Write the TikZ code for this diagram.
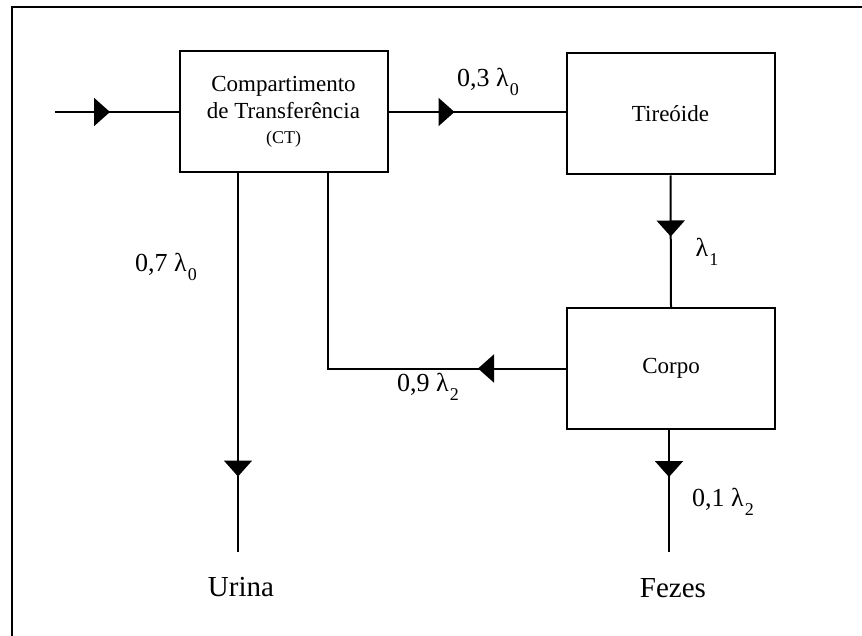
\documentclass[tikz,border=0pt]{standalone}
\usepackage{fontspec}
\setmainfont{Liberation Serif}
\usetikzlibrary{arrows.meta,decorations.markings}

\newcommand\ratesub[1]{\kern0.5pt\raisebox{-0.7ex}{\fontsize{9}{9}\selectfont #1}}

\tikzset{
  compbox/.style={draw,line width=1pt,minimum width=104pt,minimum height=60.5pt,align=center,font=\fontsize{11.5}{13.5}\selectfont},
  flow/.style={line width=1pt},
  midarrow/.style={postaction={decorate},decoration={markings,
      mark=at position #1 with {\arrow{Triangle[length=8pt,width=14pt]}}}},
  rate/.style={font=\fontsize{13}{15}\selectfont},
  sink/.style={font=\fontsize{14.5}{16}\selectfont}
}

\begin{document}
\begin{tikzpicture}[x=0.5pt,y=-0.5pt]
        \useasboundingbox (0,0) rectangle (862,636);
        \draw[line width=1pt] (862,7)--(12,7)--(12,636);
        \node[compbox] (ct) at (283.5,112) {Compartimento\\de Transfer\^encia\\[-1pt]{\fontsize{9}{11}\selectfont (CT)}};
        \node[compbox] (tir) at (670.5,114) {Tire\'oide};
        \node[compbox] (corpo) at (671,368.5) {Corpo};
        \node[sink] (urina) at (241,587) {Urina};
        \node[sink] (fezes) at (673,588) {Fezes};
        \coordinate (in) at (55,112);
        \coordinate (urinaEnd) at (238,552);
        \coordinate (fezesEnd) at (669,552);
        \coordinate (ret) at (328,173);
        \draw[flow,midarrow=27.5pt] (in) -- (ct.west);
        \draw[flow,midarrow=33pt] (ct.east) -- (ct.east -| tir.west);
        \draw[flow,midarrow=30.5pt] (tir.south) -- (corpo.north);
        \draw[flow,midarrow=44pt] (corpo.west) -| (ret);
        \draw[flow,midarrow=151.5pt] (ct.south -| urinaEnd) -- (urinaEnd);
        \draw[flow,midarrow=23.5pt] (corpo.south -| fezesEnd) -- (fezesEnd);
        \node[rate] (r03) at (488,82) {0,3 λ\ratesub{0}};
        \node[rate] (r1) at (707,252) {λ\ratesub{1}};
        \node[rate] (r07) at (166,267) {0,7 λ\ratesub{0}};
        \node[rate] (r09) at (428,387) {0,9 λ\ratesub{2}};
        \node[rate] (r01) at (723,502) {0,1 λ\ratesub{2}};
      \end{tikzpicture}
\end{document}
